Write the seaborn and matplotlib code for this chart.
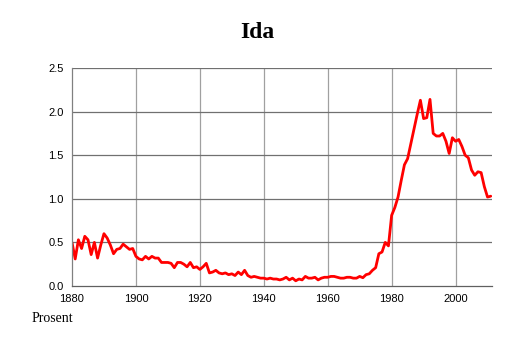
import matplotlib
matplotlib.use("Agg")
import matplotlib.pyplot as plt
import seaborn as sns
import pandas as pd
import numpy as np

years = list(range(1880, 2012))
values = [
    0.50, 0.31, 0.53, 0.43, 0.57, 0.53, 0.36, 0.50, 0.32, 0.47,  # 1880s
    0.60, 0.55, 0.47, 0.37, 0.42, 0.43, 0.48, 0.45, 0.42, 0.43,  # 1890s
    0.34, 0.31, 0.30, 0.34, 0.31, 0.34, 0.32, 0.32, 0.27, 0.27,  # 1900s
    0.27, 0.26, 0.21, 0.27, 0.27, 0.25, 0.22, 0.27, 0.21, 0.22,  # 1910s
    0.19, 0.22, 0.26, 0.15, 0.16, 0.18, 0.15, 0.14, 0.15, 0.13,  # 1920s
    0.14, 0.12, 0.16, 0.13, 0.18, 0.12, 0.10, 0.11, 0.10, 0.09,  # 1930s
    0.09, 0.08, 0.09, 0.08, 0.08, 0.07, 0.08, 0.10, 0.07, 0.09,  # 1940s
    0.06, 0.08, 0.07, 0.11, 0.09, 0.09, 0.10, 0.07, 0.09, 0.10,  # 1950s
    0.10, 0.11, 0.11, 0.10, 0.09, 0.09, 0.10, 0.10, 0.09, 0.09,  # 1960s
    0.11, 0.095, 0.13, 0.14, 0.18, 0.21, 0.37, 0.39, 0.50, 0.46,  # 1970s
    0.81, 0.90, 1.02, 1.21, 1.39, 1.46, 1.63, 1.80, 1.97, 2.13,  # 1980s
    1.92, 1.93, 2.14, 1.75, 1.72, 1.72, 1.75, 1.66, 1.52, 1.70,  # 1990s
    1.66, 1.68, 1.60, 1.50, 1.47, 1.33, 1.27, 1.31, 1.30, 1.14,  # 2000s
    1.02, 1.03,                                                  # 2010s
]
x_ticks = [1880, 1900, 1920, 1940, 1960, 1980, 2000]
y_ticks = [0.0, 0.5, 1.0, 1.5, 2.0, 2.5]
title = "Ida"
ylabel_text = "Prosent"

df = pd.DataFrame({"year": years, "value": values})

sns.set_style("white")
W, H = 514, 343
fig = plt.figure(figsize=(W / 100, H / 100), dpi=100)
L, R, T, B = 72, 492, 68, 286
ax = fig.add_axes([L / W, 1 - B / H, (R - L) / W, (B - T) / H])

sns.lineplot(data=df, x="year", y="value", ax=ax, color="#ff0000", linewidth=2.0)

ax.set_xlim(1880, 2011.4)
ax.set_ylim(0, 2.5)
ax.set_xticks(x_ticks)
ax.set_xticks(list(range(1885, 2012, 5)), minor=True)
ax.set_yticks(y_ticks)
ax.set_yticklabels([f"{v:.1f}" for v in y_ticks])
ax.set_xlabel("")
ax.set_ylabel("")

for v in x_ticks[1:]:
    ax.axvline(v, color="#a0a0a0", linewidth=0.9, zorder=0)
for v in y_ticks[1:]:
    ax.axhline(v, color="#707070", linewidth=0.9, zorder=0)

for s in ["top", "right"]:
    ax.spines[s].set_visible(False)
ax.spines["left"].set_color("#808080")
ax.spines["left"].set_linewidth(0.9)
ax.spines["bottom"].set_color("#606060")
ax.spines["bottom"].set_linewidth(0.9)

ax.tick_params(axis="x", which="major", length=4, color="#707070", labelsize=8, pad=2,
               direction="out", labelcolor="black")
ax.tick_params(axis="x", which="minor", length=2, color="#707070", direction="out")
ax.tick_params(axis="y", length=0, labelsize=8, pad=6, labelcolor="black")
for lab in ax.get_xticklabels() + ax.get_yticklabels():
    lab.set_fontfamily(["Liberation Sans", "DejaVu Sans"])

fig.text(257 / W, 1 - 33 / H, title, ha="center", va="center", color="black",
         fontsize=17, fontweight="bold", family=["Liberation Serif", "DejaVu Serif"])
fig.text(32 / W, 1 - 318 / H, ylabel_text, ha="left", va="center", color="black",
         fontsize=10, family=["Liberation Serif", "DejaVu Serif"])

fig.savefig("out.png", dpi=100)
